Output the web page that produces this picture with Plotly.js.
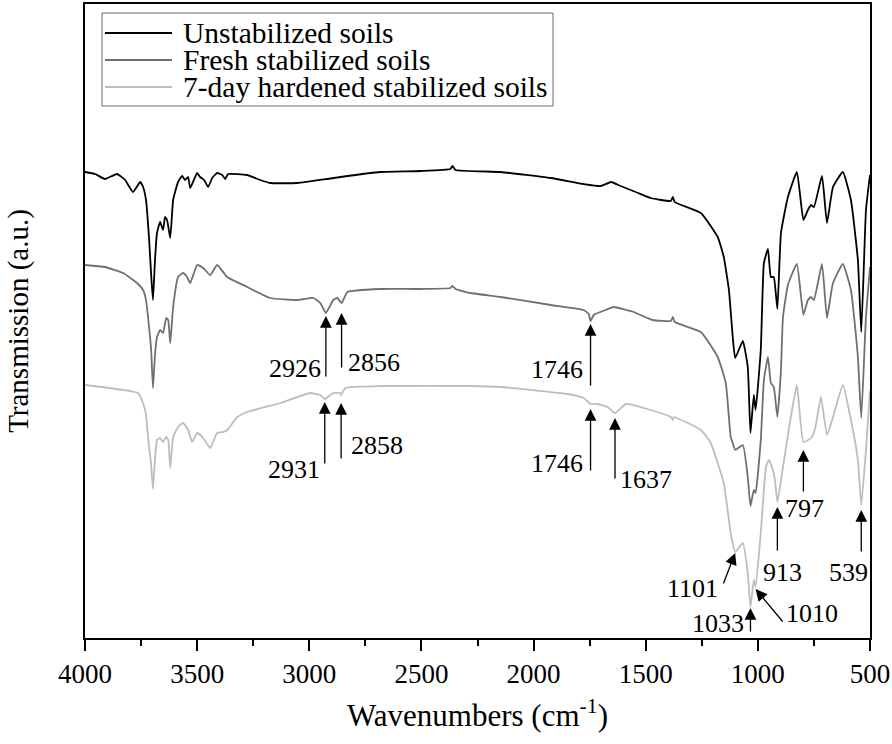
<!DOCTYPE html>
<html><head><meta charset="utf-8">
<script src="https://cdn.plot.ly/plotly-3.0.1.min.js"></script>
<style>html,body{margin:0;padding:0;background:#fff}#chart{width:892px;height:744px}</style>
</head><body><div id="chart"></div>
<script>
// ---- data (wavenumber cm-1, transmission a.u.) ----
const seriesNames = ['Unstabilized soils', 'Fresh stabilized soils', '7-day hardened stabilized soils'];

const wnUnstab = [4000,3955,3911,3857,3821,3786,3754,3741,3728,3714,3705,3697,3688,3679,3665,3652,3643,3634,3620,3607,3585,3567,3554,3540,3531,3500,3487,3469,3451,3433,3411,3388,3375,3362,3277,3219,3174,3054,2920,2830,2683,2504,2371,2362,2348,2147,1924,1777,1701,1654,1612,1545,1478,1388,1379,1371,1254,1179,1152,1129,1112,1101,1067,1045,1033,1018,1010,987,973,955,942,929,913,897,866,826,797,777,763,750,714,692,665,621,585,554,539,518,504,500];
const tUnstab = [466,464,459,464,458,446,456,451,438,398,363,338,378,405,416,408,421,418,400,438,456,462,458,461,450,465,461,458,451,460,465,463,459,464,463,458,455,455,459,462,466,467,469,472,468,466,460,454,452,456,452,446,440,437,441,436,425,401,381,348,301,280,297,271,205,243,228,288,375,389,361,361,329,405,441,466,418,428,433,431,462,415,451,466,438,378,306,428,456,463];

const wnFresh = [4000,3911,3830,3768,3741,3728,3719,3705,3697,3688,3679,3665,3652,3638,3629,3620,3607,3585,3563,3545,3531,3500,3473,3442,3411,3366,3277,3174,3054,2982,2951,2926,2893,2875,2856,2830,2683,2504,2371,2362,2348,2281,2147,1924,1777,1754,1746,1732,1714,1679,1643,1554,1469,1388,1379,1371,1254,1179,1143,1121,1112,1101,1067,1045,1033,1018,1010,987,973,955,942,929,913,897,888,866,826,797,777,763,750,714,692,665,621,585,554,539,518,500];
const tFresh = [373,371,365,355,348,338,321,288,250,283,301,308,305,320,318,295,331,361,365,361,355,373,370,363,373,361,351,340,338,340,335,325,338,340,335,346,349,349,350,352,349,345,341,333,328,324,317,323,325,328,331,326,318,317,321,316,306,281,255,201,195,188,193,161,132,148,145,198,258,281,255,251,221,268,321,353,374,323,338,341,338,374,320,355,374,348,281,220,321,371];

const wnHard = [4000,3799,3763,3741,3728,3719,3705,3697,3688,3679,3665,3652,3638,3629,3620,3607,3585,3563,3540,3522,3500,3473,3442,3411,3384,3366,3321,3277,3129,2996,2951,2931,2906,2893,2862,2858,2839,2670,2281,2147,1848,1777,1746,1714,1670,1637,1589,1478,1388,1379,1375,1254,1210,1179,1152,1121,1101,1067,1045,1033,1018,1010,987,964,951,933,924,913,888,853,826,797,763,746,719,692,665,621,585,554,539,518,500];
const tHard = [253,247,245,235,223,201,173,149,178,198,200,196,201,198,170,201,211,215,208,196,205,200,190,205,206,208,221,226,235,245,243,239,243,245,245,243,250,252,252,251,244,240,234,234,231,225,234,228,221,218,221,208,195,175,155,105,86,95,65,31,58,51,105,171,178,168,158,136,171,221,253,196,200,208,241,203,221,253,218,178,133,188,248];

const xTickVals = [4000,3500,3000,2500,2000,1500,1000,500];

// peak labels
const peakLabels = ['2926','2856','2931','2858','1746','1746','1637','797','913','539','1101','1033','1010'];

// ---- layout helpers (positions only) ----
// [tipX, tipY, tailX, tailY, labelX, labelY]
const arrowGeom = [
  [2926,322,2926,260, 3065,270],
  [2856,325,2856,269, 2710,276],
  [2931,236,2931,173, 3069,169],
  [2858,235,2858,178, 2699,193],
  [1746,314,1746,251, 1897,269],
  [1746,229,1746,166, 1897,175],
  [1637,220,1637,158, 1500,159],
  [797,188,797,145,   790,130],
  [913,131,913,86,    888,66],
  [539,128,539,85,    594,66],
  [1101,85,1156,53,   1290,50],
  [1033,30,1033,5,    1179,15],
  [1010,49,884,15,    757,25]
];

const FONT = 'Liberation Serif, Times New Roman, serif';
const colors = ['#000000', '#707070', '#bdbdbd'];

const traces = [
  {x: wnUnstab, y: tUnstab, name: seriesNames[0]},
  {x: wnFresh, y: tFresh, name: seriesNames[1]},
  {x: wnHard, y: tHard, name: seriesNames[2]}
].map((t, i) => Object.assign(t, {
  type: 'scatter', mode: 'lines', showlegend: false,
  line: {color: colors[i], width: 1.8, shape: 'spline', smoothing: 0.4}
}));

const annotations = [];
arrowGeom.forEach((g, i) => {
  annotations.push({
    x: g[0], y: g[1], ax: g[2], ay: g[3], xref: 'x', yref: 'y', axref: 'x', ayref: 'y',
    text: '', showarrow: true, arrowhead: 2, arrowsize: 1.8, arrowwidth: 1.3,
    arrowcolor: '#000', standoff: 0
  });
  annotations.push({
    x: g[4], y: g[5], xref: 'x', yref: 'y', text: peakLabels[i], showarrow: false,
    xanchor: 'center', yanchor: 'middle', font: {family: FONT, size: 26, color: '#000'}
  });
});

// custom legend (paper coordinates)
const W0 = 85, H0 = 638, PW = 785, PH = 634;
const px = v => (v - W0) / PW;
const py = v => (H0 - v) / PH;
const shapes = [{
  type: 'rect', xref: 'paper', yref: 'paper', x0: px(102), x1: px(553), y0: py(106), y1: py(13),
  line: {color: '#6a6a6a', width: 1}, fillcolor: 'rgba(0,0,0,0)'
}];
const legRows = [33, 60, 87];
seriesNames.forEach((n, i) => {
  shapes.push({type: 'line', xref: 'paper', yref: 'paper', x0: px(105), x1: px(172),
    y0: py(legRows[i]), y1: py(legRows[i]), line: {color: colors[i], width: 1.8}});
  annotations.push({x: px(181), y: py(legRows[i]), xref: 'paper', yref: 'paper', text: n,
    showarrow: false, xanchor: 'left', yanchor: 'middle', font: {family: FONT, size: 29.5, color: '#000'}});
});

const layout = {
  width: 892, height: 744,
  margin: {l: 85, r: 22, t: 4, b: 106},
  paper_bgcolor: '#fff', plot_bgcolor: '#fff',
  font: {family: FONT, size: 26, color: '#000'},
  xaxis: {
    range: [4000, 500], tickvals: xTickVals, ticks: 'outside', ticklen: 11, tickwidth: 2,
    tickcolor: '#000', showline: true, linewidth: 2, linecolor: '#000', mirror: true,
    showgrid: false, zeroline: false, tickfont: {family: FONT, size: 27},
    minor: {dtick: 250, ticks: 'outside', ticklen: 6, tickwidth: 2, tickcolor: '#000', showgrid: false},
    title: {text: 'Wavenumbers (cm<sup>-1</sup>)', font: {family: FONT, size: 31}, standoff: 16}
  },
  yaxis: {
    range: [0, 634], showticklabels: false, ticks: '', showline: true, linewidth: 2,
    linecolor: '#000', mirror: true, showgrid: false, zeroline: false,
    title: {text: 'Transmission (a.u.)', font: {family: FONT, size: 29}, standoff: 46}
  },
  annotations: annotations,
  shapes: shapes,
  showlegend: false
};

Plotly.newPlot('chart', traces, layout, {displayModeBar: false, responsive: false});
</script>
</body></html>
